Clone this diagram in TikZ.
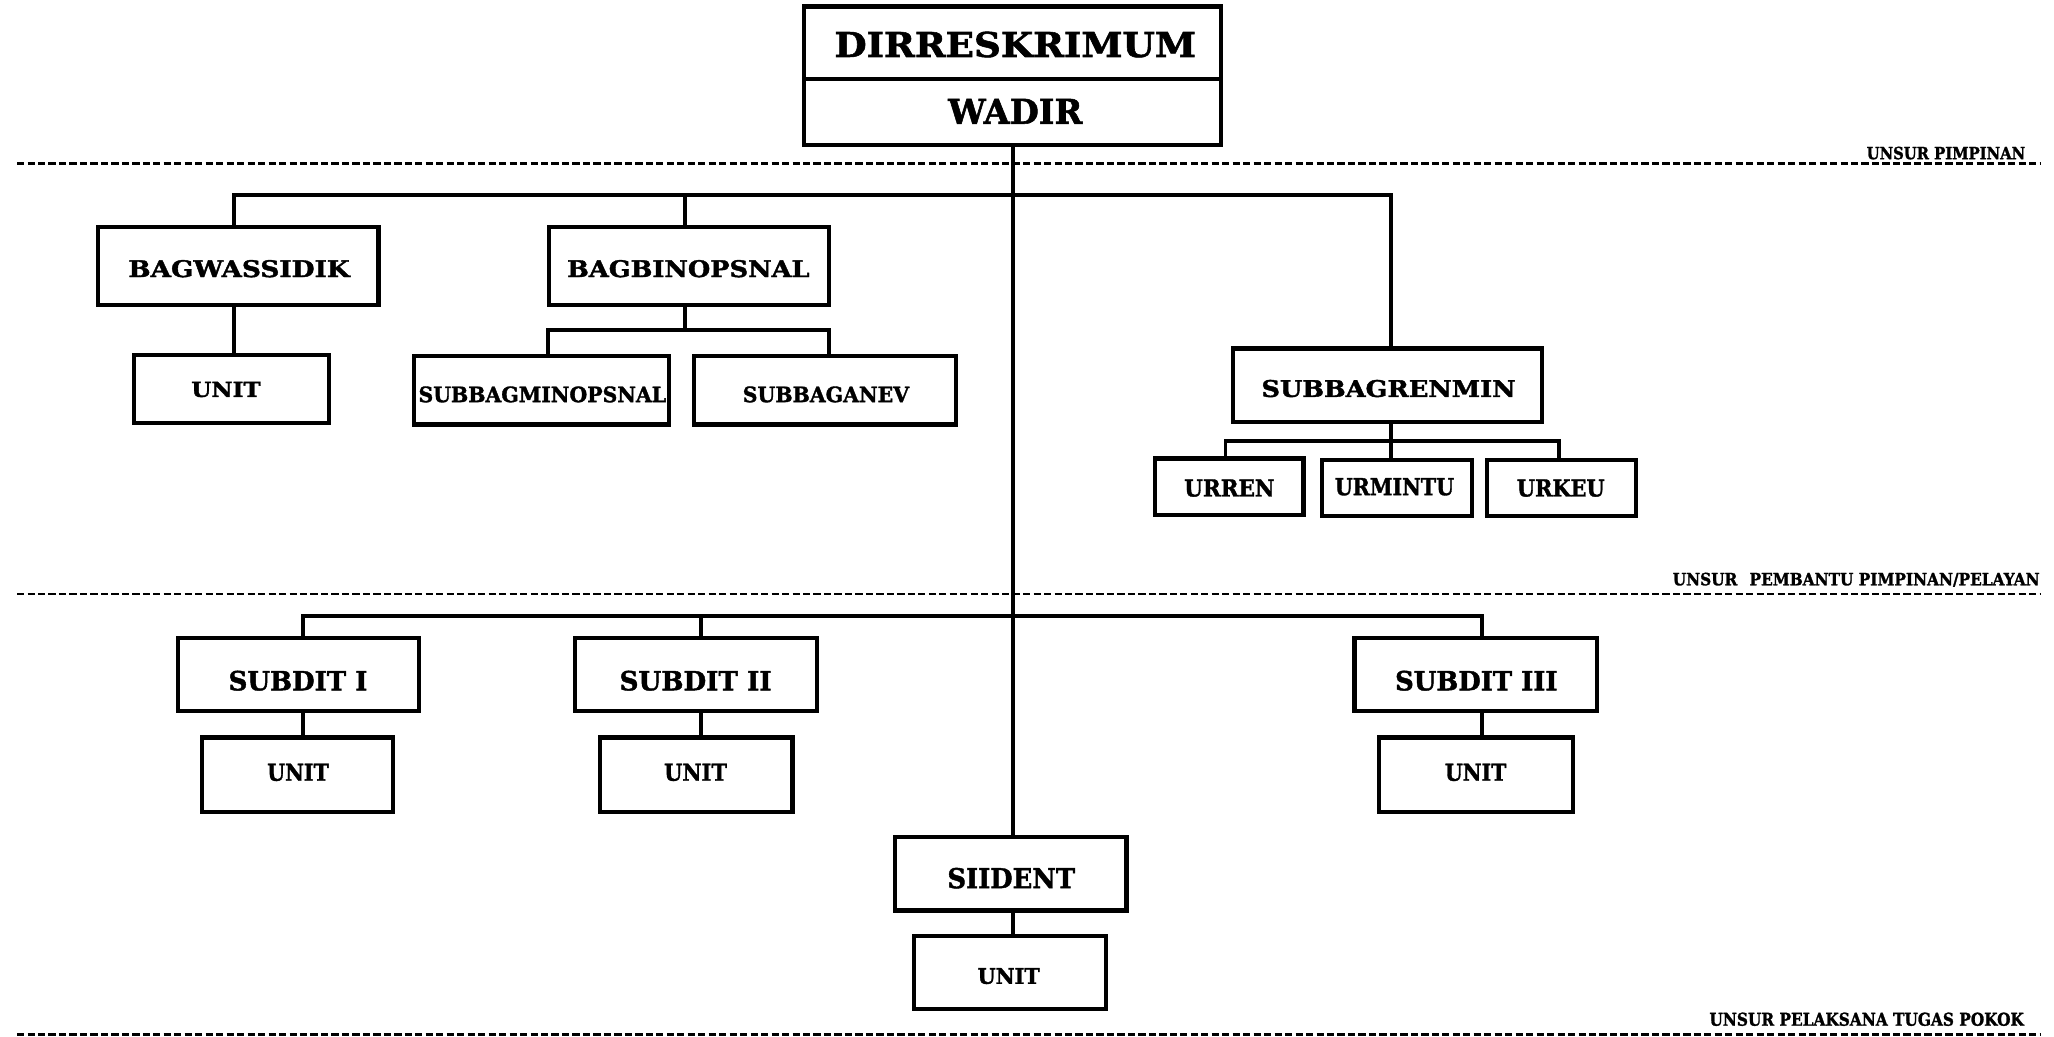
\documentclass[tikz,border=0pt]{standalone}
\usepackage{fontspec}
\setmainfont{DejaVu Serif}[BoldFeatures={FakeBold=1.6}]
\newcommand{\lab}[3]{\resizebox{#1pt}{#2pt}{\bfseries #3}}
\tikzset{
  box/.style={draw, line width=3.2pt, inner sep=0pt, fill=white},
  txt/.style={inner sep=0pt, outer sep=0pt, anchor=base},
  rtxt/.style={inner sep=0pt, outer sep=0pt, anchor=base east},
  conn/.style={line width=3pt},
  sep/.style={line width=2pt, dash pattern=on 5.5pt off 2.5pt}
}
\begin{document}
\begin{tikzpicture}[x=1pt,y=-1pt]
\useasboundingbox (0,0) rectangle (1568,791.6);
% separators
\draw[sep] (13,125) -- (1558,125);
\draw[sep] (13,453.5) -- (1558,453.5);
\draw[sep] (13,789.5) -- (1558,789.5);
\node[rtxt] (lp1) at (1546,121.5) {\lab{121}{9.5}{UNSUR PIMPINAN}};
\node[rtxt] (lp2) at (1557,446.8) {\lab{280}{9.6}{UNSUR\hspace{0.8em}PEMBANTU PIMPINAN/PELAYAN}};
\node[rtxt] (lp3) at (1545,783) {\lab{240}{10}{UNSUR PELAKSANA TUGAS POKOK}};
% coordinates of bars
\coordinate (b1l) at (178.6,149);
\coordinate (b1m) at (523,149);
\coordinate (b1r) at (1062,149);
\coordinate (b2l) at (418.5,252);
\coordinate (b2r) at (632.5,252);
\coordinate (b3l) at (935.5,337);
\coordinate (b3r) at (1190,337);
\coordinate (b4l) at (231,470);
\coordinate (b4m) at (535,470);
\coordinate (b4r) at (1131,470);
% boxes
\node[box, minimum width=318pt, minimum height=55.5pt] (dir) at (773,32.75) {};
\node[box, minimum width=318pt, minimum height=50.5pt] (wadir) at (773,85.75) {};
\node[box, minimum width=214pt, minimum height=60pt] (bw) at (182,203) {};
\node[box, minimum width=149pt, minimum height=52pt] (u1) at (176.5,297) {};
\node[box, minimum width=214pt, minimum height=60pt] (bb) at (526,203) {};
\node[box, minimum width=195pt, minimum height=52pt] (smo) at (413.5,298) {};
\node[box, minimum width=200pt, minimum height=52pt] (sae) at (630,298) {};
\node[box, minimum width=236pt, minimum height=56pt] (srm) at (1059,294) {};
\node[box, minimum width=113pt, minimum height=43pt] (urr) at (938.5,371.5) {};
\node[box, minimum width=115pt, minimum height=43pt] (urm) at (1066.5,372.5) {};
\node[box, minimum width=114pt, minimum height=43pt] (urk) at (1192,372.5) {};
\node[box, minimum width=184pt, minimum height=56pt] (s1) at (228,515) {};
\node[box, minimum width=146pt, minimum height=57pt] (u2) at (227,591.5) {};
\node[box, minimum width=184.5pt, minimum height=56pt] (s2) at (531.25,515) {};
\node[box, minimum width=147pt, minimum height=57pt] (u3) at (531.5,591.5) {};
\node[box, minimum width=185pt, minimum height=56pt] (s3) at (1126.5,515) {};
\node[box, minimum width=147.5pt, minimum height=57pt] (u4) at (1126.75,591.5) {};
\node[box, minimum width=177pt, minimum height=56pt] (si) at (771.5,667) {};
\node[box, minimum width=146pt, minimum height=55.5pt] (u5) at (771,742.25) {};
% connectors
\draw[conn] (wadir.south) -- (wadir.south |- si.north);
\draw[conn] (bw.north -| b1l) -- (b1l) -- (b1r) -- (srm.north -| b1r);
\draw[conn] (b1m) -- (bb.north -| b1m);
\draw[conn] (bw.south -| b1l) -- (u1.north -| b1l);
\draw[conn] (bb.south -| b1m) -- (b1m |- b2l);
\draw[conn] (smo.north -| b2l) -- (b2l) -- (b2r) -- (sae.north -| b2r);
\draw[conn] (srm.south -| b1r) -- (b1r |- b3l);
\draw[conn] (urr.north -| b3l) -- (b3l) -- (b3r) -- (urk.north -| b3r);
\draw[conn] (b1r |- b3l) -- (urm.north -| b1r);
\draw[conn] (s1.north -| b4l) -- (b4l) -- (b4r) -- (s3.north -| b4r);
\draw[conn] (b4m) -- (s2.north -| b4m);
\draw[conn] (s1.south -| b4l) -- (u2.north -| b4l);
\draw[conn] (s2.south -| b4m) -- (u3.north -| b4m);
\draw[conn] (s3.south -| b4r) -- (u4.north -| b4r);
\draw[conn] (si.south -| wadir.south) -- (u5.north -| wadir.south);
% labels
\node[txt] (tdir) at (775,43.5) {\lab{276}{19.4}{DIRRESKRIMUM}};
\node[txt] (twadir) at (775,94.5) {\lab{102.5}{19}{WADIR}};
\node[txt] (tbw) at (182.5,211.5) {\lab{169}{13}{BAGWASSIDIK}};
\node[txt] (tu1) at (172.5,303) {\lab{53}{11.5}{UNIT}};
\node[txt] (tbb) at (525.5,211.5) {\lab{185}{13}{BAGBINOPSNAL}};
\node[txt] (tsmo) at (414,307) {\lab{189}{12}{SUBBAGMINOPSNAL}};
\node[txt] (tsae) at (630.5,307) {\lab{127}{12}{SUBBAGANEV}};
\node[txt] (tsrm) at (1060,303) {\lab{194}{13}{SUBBAGRENMIN}};
\node[txt] (turr) at (938.5,379) {\lab{69}{13}{URREN}};
\node[txt] (turm) at (1064.5,378) {\lab{91}{13}{URMINTU}};
\node[txt] (turk) at (1191.5,379) {\lab{67}{13}{URKEU}};
\node[txt] (ts1) at (227.5,527) {\lab{106}{15}{SUBDIT I}};
\node[txt] (tu2) at (227.5,596) {\lab{47}{13}{UNIT}};
\node[txt] (ts2) at (531,527) {\lab{116}{15}{SUBDIT II}};
\node[txt] (tu3) at (531,596) {\lab{48}{13}{UNIT}};
\node[txt] (ts3) at (1127,527) {\lab{124}{15}{SUBDIT III}};
\node[txt] (tu4) at (1126.5,596) {\lab{47}{13}{UNIT}};
\node[txt] (tsi) at (772,678) {\lab{97.5}{15.5}{SIIDENT}};
\node[txt] (tu5) at (770,751) {\lab{47.5}{12}{UNIT}};
\end{tikzpicture}
\end{document}
